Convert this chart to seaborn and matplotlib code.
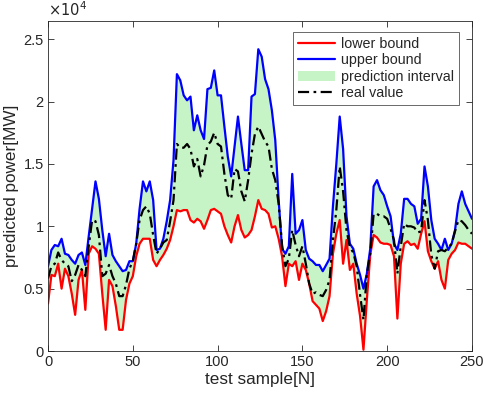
import numpy as np
import pandas as pd
import matplotlib
matplotlib.use('Agg')
import matplotlib.pyplot as plt
import seaborn as sns
from matplotlib.patches import Patch
from matplotlib.lines import Line2D

# test sample index (every 2nd sample)
samples = list(range(0, 251, 2))

# values in units of 10^4 MW
upper = [0.68, 0.81, 0.85, 0.84, 0.90, 0.78, 0.77, 0.73, 0.70, 0.77,
         0.79, 0.69, 0.92, 1.14, 1.36, 1.22, 0.97, 0.76, 0.94, 0.77,
         0.72, 0.68, 0.64, 0.65, 0.72, 0.72, 0.86, 1.14, 1.36, 1.28,
         1.36, 1.21, 0.81, 0.82, 0.90, 1.04, 1.21, 1.53, 2.22, 2.17,
         2.05, 2.01, 2.04, 1.77, 1.89, 1.77, 1.70, 2.10, 2.11, 2.25,
         2.05, 2.05, 1.80, 1.56, 1.40, 1.64, 1.88, 1.66, 1.45, 1.45,
         2.04, 2.06, 2.42, 2.36, 2.18, 2.10, 1.93, 1.69, 1.21, 0.82,
         0.78, 0.84, 1.42, 0.94, 0.97, 1.05, 0.81, 0.74, 0.72, 0.69,
         0.69, 0.64, 0.69, 0.74, 1.16, 1.50, 1.88, 1.62, 1.08, 0.86,
         0.82, 0.70, 0.61, 0.50, 0.62, 0.82, 1.32, 1.37, 1.29, 1.25,
         1.16, 1.08, 0.86, 0.81, 0.94, 1.22, 1.22, 1.18, 1.16, 1.02,
         1.06, 1.48, 1.32, 1.05, 0.90, 0.86, 0.81, 0.90, 0.81, 0.86,
         0.97, 1.18, 1.28, 1.18, 1.12, 1.06]

lower = [0.38, 0.61, 0.60, 0.70, 0.50, 0.66, 0.60, 0.46, 0.29, 0.57,
         0.65, 0.33, 0.78, 0.84, 0.82, 0.78, 0.46, 0.17, 0.57, 0.52,
         0.36, 0.17, 0.17, 0.41, 0.54, 0.60, 0.76, 0.86, 0.90, 0.90,
         0.90, 0.73, 0.68, 0.73, 0.77, 0.82, 0.89, 1.00, 1.13, 1.12,
         1.13, 1.13, 1.05, 1.03, 1.06, 1.04, 0.98, 1.05, 1.13, 1.14,
         1.12, 1.10, 1.00, 0.93, 0.87, 1.00, 1.09, 0.97, 0.91, 0.93,
         0.97, 1.08, 1.21, 1.14, 1.13, 1.10, 0.99, 1.00, 0.90, 0.76,
         0.52, 0.70, 0.68, 0.72, 0.57, 0.70, 0.65, 0.54, 0.40, 0.37,
         0.34, 0.24, 0.32, 0.44, 0.78, 0.94, 1.05, 0.70, 0.89, 0.65,
         0.70, 0.46, 0.28, 0.01, 0.41, 0.77, 0.93, 0.91, 0.87, 0.86,
         0.86, 0.85, 0.76, 0.26, 0.70, 0.86, 0.88, 0.85, 0.86, 0.82,
         0.94, 1.04, 0.80, 0.72, 0.66, 0.72, 0.57, 0.50, 0.73, 0.78,
         0.81, 0.87, 0.86, 0.86, 0.84, 0.82]

real = [0.58, 0.68, 0.70, 0.79, 0.73, 0.70, 0.68, 0.56, 0.61, 0.69,
        0.65, 0.60, 0.84, 1.05, 1.04, 0.93, 0.60, 0.62, 0.69, 0.60,
        0.54, 0.44, 0.44, 0.53, 0.66, 0.72, 0.86, 1.05, 1.13, 1.16,
        1.10, 0.93, 0.78, 0.82, 0.87, 0.89, 1.04, 1.21, 1.66, 1.63,
        1.63, 1.66, 1.62, 1.48, 1.54, 1.40, 1.49, 1.65, 1.68, 1.75,
        1.66, 1.64, 1.42, 1.25, 1.22, 1.46, 1.44, 1.28, 1.20, 1.37,
        1.58, 1.74, 1.80, 1.74, 1.68, 1.64, 1.46, 1.37, 1.18, 0.85,
        0.68, 0.74, 0.97, 0.85, 0.76, 0.84, 0.70, 0.54, 0.46, 0.47,
        0.45, 0.44, 0.49, 0.57, 0.89, 1.13, 1.48, 1.28, 0.97, 0.83,
        0.79, 0.68, 0.45, 0.25, 0.62, 0.78, 1.10, 1.10, 1.08, 1.08,
        1.06, 0.98, 0.89, 0.62, 0.84, 1.02, 1.00, 1.00, 0.99, 0.95,
        0.96, 1.21, 1.05, 0.77, 0.66, 0.80, 0.81, 0.80, 0.83, 0.86,
        0.96, 1.05, 1.04, 1.01, 0.97, 0.94]

SCALE = 1e4
df = pd.DataFrame({'sample': samples,
                   'lower': np.array(lower) * SCALE,
                   'upper': np.array(upper) * SCALE,
                   'real': np.array(real) * SCALE})

sns.set_style('ticks')
plt.rcParams['font.family'] = ['Liberation Sans', 'DejaVu Sans']
plt.rcParams['axes.edgecolor'] = '#262626'
plt.rcParams['xtick.color'] = '#262626'
plt.rcParams['ytick.color'] = '#262626'

fig = plt.figure(figsize=(4.84, 3.99), dpi=100)
ax = fig.add_axes([0.0992, 0.1203, 0.8760, 0.8267])

ax.fill_between(df['sample'], df['lower'], df['upper'], color='#c6f4c6', lw=0)
sns.lineplot(data=df, x='sample', y='lower', color='#ff0000', lw=1.6, ax=ax)
sns.lineplot(data=df, x='sample', y='upper', color='#0000ff', lw=1.6, ax=ax)
sns.lineplot(data=df, x='sample', y='real', color='black', lw=1.6, ax=ax)
ax.lines[-1].set_linestyle((0, (5, 2, 1.2, 2)))

ax.set_xlim(0, 250)
ax.set_ylim(0, 2.645e4)
ax.set_xticks([0, 50, 100, 150, 200, 250])
yt = [0, 5000, 10000, 15000, 20000, 25000]
ax.set_yticks(yt)
ax.set_yticklabels(['0', '0.5', '1', '1.5', '2', '2.5'])
ax.tick_params(direction='in', length=4, width=0.6, labelsize=10.5,
               top=True, right=True, pad=3)
for s in ax.spines.values():
    s.set_linewidth(0.6)
    s.set_visible(True)
ax.set_xlabel('test sample[N]', fontsize=12.3, labelpad=2)
ax.set_ylabel('predicted power[MW]', fontsize=12.3, labelpad=3)
ax.text(0.0, 1.005, r'$\times10^{4}$', transform=ax.transAxes, fontsize=10.5,
        ha='left', va='bottom', color='#262626')

handles = [Line2D([], [], color='#ff0000', lw=1.6),
           Line2D([], [], color='#0000ff', lw=1.6),
           Patch(facecolor='#c6f4c6', edgecolor='none'),
           Line2D([], [], color='black', lw=1.6, ls=(0, (5, 2, 1.2, 2)))]
leg = ax.legend(handles, ['lower bound', 'upper bound', 'prediction interval', 'real value'],
                loc='upper right', bbox_to_anchor=(0.975, 0.975), fontsize=10.3,
                frameon=True, fancybox=False, handlelength=2.6, handletextpad=0.4,
                labelspacing=0.15, borderpad=0.35, borderaxespad=0.2)
leg.get_frame().set_edgecolor('#262626')
leg.get_frame().set_linewidth(0.6)

fig.savefig('out.png', dpi=100)
